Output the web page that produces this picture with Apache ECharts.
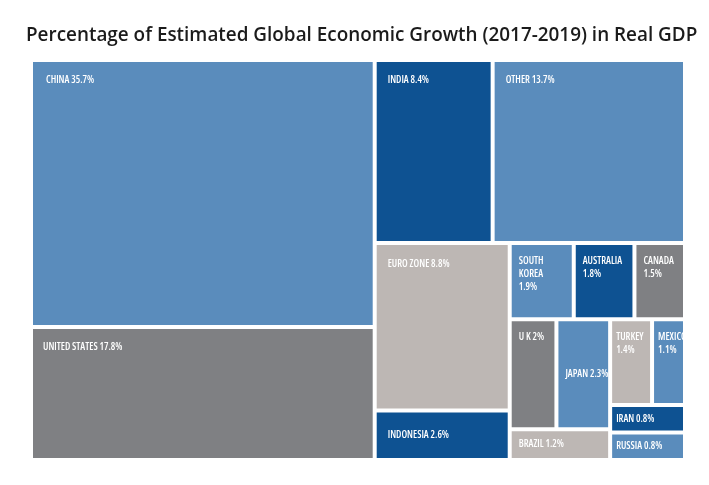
<!DOCTYPE html>
<html>
<head>
<meta charset="utf-8">
<script src="https://cdn.jsdelivr.net/npm/echarts@6/dist/echarts.min.js"></script>
<style>
html,body{margin:0;padding:0;background:#fff;}
#chart{width:709px;height:485px;}
</style>
</head>
<body>
<div id="chart"></div>
<script>
// ---- data ----
const titleText = 'Percentage of Estimated Global Economic Growth (2017-2019) in Real GDP';
const countries = ['CHINA','UNITED STATES','INDIA','OTHER','EURO ZONE','INDONESIA','SOUTH KOREA','AUSTRALIA','CANADA','U K','JAPAN','BRAZIL','TURKEY','MEXICO','IRAN','RUSSIA'];
const shares    = [35.7, 17.8, 8.4, 13.7, 8.8, 2.6, 1.9, 1.8, 1.5, 2, 2.3, 1.2, 1.4, 1.1, 0.8, 0.8];

// ---- grouping used only to steer the squarified layout ----
const layoutTree = ['CHINA','UNITED STATES','INDIA','OTHER','EURO ZONE','INDONESIA',
  ['SOUTH KOREA','AUSTRALIA','CANADA',
    [['U K','JAPAN','BRAZIL'],'TURKEY','MEXICO','IRAN','RUSSIA']]];

// ---- styles ----
const C_MED = '#5A8CBC', C_DARK = '#0E5292', C_GRAY = '#7F8083', C_TAUPE = '#BDB7B4';
const colorOf = {
  'CHINA':C_MED,'OTHER':C_MED,'SOUTH KOREA':C_MED,'JAPAN':C_MED,'MEXICO':C_MED,'RUSSIA':C_MED,
  'INDIA':C_DARK,'INDONESIA':C_DARK,'AUSTRALIA':C_DARK,'IRAN':C_DARK,
  'UNITED STATES':C_GRAY,'CANADA':C_GRAY,'U K':C_GRAY,
  'EURO ZONE':C_TAUPE,'TURKEY':C_TAUPE,'BRAZIL':C_TAUPE
};
const labelPrefix = {
  'SOUTH KOREA':'SOUTH\nKOREA\n','AUSTRALIA':'AUSTRALIA\n','CANADA':'CANADA\n',
  'TURKEY':'TURKEY\n','MEXICO':'MEXICO\n'
};
const labelPlace = {
  'CHINA':[13,12],'UNITED STATES':[10,12],'INDIA':[11,12],'OTHER':[11,12],'EURO ZONE':[11,12],
  'SOUTH KOREA':[7,9],'AUSTRALIA':[7,9],'CANADA':[7,9],'U K':[7,9],
  'TURKEY':[4,9],'MEXICO':[4,9]
};
const labelLeftDist = {'INDONESIA':11,'JAPAN':7,'BRAZIL':7,'IRAN':4,'RUSSIA':4};

function labelFor(name){
  if (labelLeftDist[name] !== undefined) {
    return {position:'insideLeft', distance: labelLeftDist[name]};
  }
  return {position: labelPlace[name], align:'left', verticalAlign:'top'};
}

function build(spec){
  if (Array.isArray(spec)) {
    return {name:'', children: spec.map(build),
            itemStyle:{borderWidth:0, gapWidth:0, borderColor:'#fff'}};
  }
  const i = countries.indexOf(spec);
  return {
    name: spec,
    value: shares[i],
    itemStyle: {color: colorOf[spec], borderWidth: 2, borderColor: '#fff', gapWidth: 0},
    label: labelFor(spec)
  };
}
const treeData = layoutTree.map(build);

const chart = echarts.init(document.getElementById('chart'), null, {renderer:'canvas'});
chart.setOption({
  animation: false,
  title: {
    text: titleText, left: 21, top: 21,
    textStyle: {fontFamily: '"Open Sans", sans-serif', fontSize: 18.9, fontWeight: 600, color: '#1b1b1b'}
  },
  series: [{
    type: 'treemap',
    left: 31, top: 60, right: 24, bottom: 25,
    roam: false, nodeClick: false,
    sort: false,
    breadcrumb: {show: false},
    itemStyle: {borderWidth: 0, gapWidth: 0, borderColor: '#fff'},
    upperLabel: {show: false},
    label: {
      show: true,
      color: '#ffffff',
      fontStyle: 'normal',
      fontWeight: '600 condensed',
      fontFamily: '"Open Sans", "Roboto Condensed", sans-serif',
      fontSize: 10,
      lineHeight: 13.3,
      padding: 0,
      overflow: 'none',
      formatter: function(p){
        const pre = labelPrefix[p.name] || (p.name + ' ');
        return pre + p.value + '%';
      }
    },
    emphasis: {disabled: true},
    data: treeData
  }]
});
</script>
</body>
</html>
